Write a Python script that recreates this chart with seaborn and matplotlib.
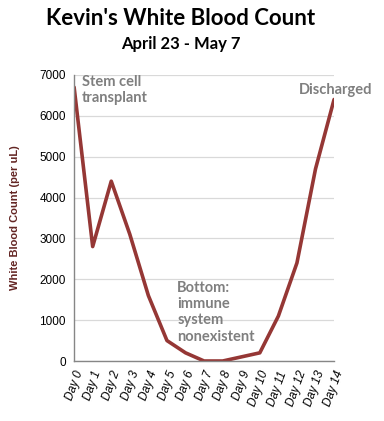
import matplotlib
matplotlib.use("Agg")
import matplotlib.pyplot as plt
import seaborn as sns
import pandas as pd

# daily white blood cell counts (per uL)
days = ["Day 0", "Day 1", "Day 2", "Day 3", "Day 4", "Day 5", "Day 6", "Day 7",
        "Day 8", "Day 9", "Day 10", "Day 11", "Day 12", "Day 13", "Day 14"]
counts = [6700, 2800, 4400, 3100, 1600, 500, 200, 0, 0, 100, 200, 1100, 2400, 4700, 6400]
y_ticks = [0, 1000, 2000, 3000, 4000, 5000, 6000, 7000]

df = pd.DataFrame({"day": days, "count": counts})
df["pos"] = range(len(days))

sns.set_style("white")
plt.rcParams["font.family"] = ["Liberation Sans", "DejaVu Sans"]
plt.rcParams["text.color"] = "black"
plt.rcParams["xtick.color"] = "black"
plt.rcParams["ytick.color"] = "black"

fig = plt.figure(figsize=(3.84, 4.21), dpi=100)
ax = fig.add_axes([0.193, 0.1425, 0.677, 0.6795])

sns.lineplot(data=df, x="pos", y="count", color="#953735", linewidth=2.6, ax=ax)

ax.set_xlim(0, len(days) - 1)
ax.set_ylim(0, 7000)
ax.set_yticks(y_ticks)
ax.set_yticklabels([str(v) for v in y_ticks], fontsize=8.5)
ax.set_xticks(df["pos"])
ax.set_xticklabels(days, rotation=70, ha="right", rotation_mode="anchor",
                   fontsize=8.5, fontstyle="italic")
ax.yaxis.grid(True, color="#d9d9d9", linewidth=0.9)
ax.set_axisbelow(True)
for s in ["top", "right"]:
    ax.spines[s].set_visible(False)
for s in ["left", "bottom"]:
    ax.spines[s].set_color("#868686")
    ax.spines[s].set_linewidth(1.0)
ax.tick_params(axis="both", direction="out", length=4, color="#868686", width=0.9, pad=2)
ax.set_xlabel("")
ax.set_ylabel("White Blood Count (per uL)", fontsize=8, fontweight="bold",
              color="#632523", labelpad=14)

# annotations
ann = dict(color="#7f7f7f", fontweight="bold", fontsize=10.5, family="Lato",
           va="top", ha="left", linespacing=1.2)
ax.text(0.4, 7000, "Stem cell\ntransplant", **ann)
ax.text(5.55, 1960, "Bottom:\nimmune\nsystem\nnonexistent", **ann)
ax.text(12.1, 6800, "Discharged", **ann)

fig.text(0.47, 0.955, "Kevin's White Blood Count", ha="center", va="center",
         fontsize=16, fontweight="bold", family="Lato", color="black")
fig.text(0.47, 0.895, "April 23 - May 7", ha="center", va="center",
         fontsize=12, fontweight="bold", family="Lato", color="black")

fig.savefig("out.png", dpi=100)
